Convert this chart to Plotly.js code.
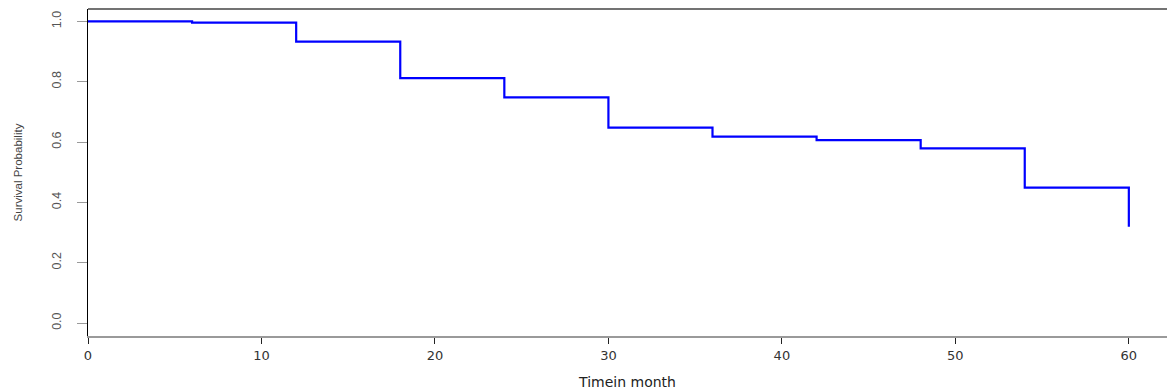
<!DOCTYPE html>
<html>
<head>
<meta charset="utf-8">
<script src="https://cdn.plot.ly/plotly-3.0.1.min.js"></script>
<style>html,body{margin:0;padding:0;background:#fff;}#chart{width:1167px;height:390px;}</style>
</head>
<body>
<div id="chart"></div>
<script>
// Kaplan-Meier step values
const timeMonths = [0, 6, 12, 18, 24, 30, 36, 42, 48, 54, 60];
const survival   = [1.0, 0.996, 0.933, 0.812, 0.748, 0.648, 0.618, 0.606, 0.579, 0.449, 0.319];
const xTicks = [0, 10, 20, 30, 40, 50, 60];
const yTicks = [0.0, 0.2, 0.4, 0.6, 0.8, 1.0];
const yTickText = ['0.0', '0.2', '0.4', '0.6', '0.8', '1.0'];

// step function: value holds until the next time, then drops (final drop at last time)
const xs = [], ys = [];
for (let i = 0; i < timeMonths.length; i++) {
  if (i > 0) { xs.push(timeMonths[i]); ys.push(survival[i - 1]); }
  xs.push(timeMonths[i]); ys.push(survival[i]);
}

const trace = {
  x: xs, y: ys, type: 'scatter', mode: 'lines',
  line: {color: '#0000ff', width: 2.2},
  hoverinfo: 'x+y', showlegend: false
};

const layout = {
  width: 1167, height: 390,
  margin: {l: 88, r: 0, t: 9, b: 54},
  paper_bgcolor: '#ffffff', plot_bgcolor: '#ffffff',
  font: {family: 'Liberation Sans, Arial, sans-serif', color: '#333'},
  xaxis: {
    range: [0, 62.2], showgrid: false, zeroline: false,
    tickmode: 'array', tickvals: xTicks, ticktext: xTicks.map(String),
    ticks: 'outside', ticklen: 6, tickwidth: 1, tickcolor: '#222',
    showline: true, linecolor: '#9a9a9a', linewidth: 2,
    tickfont: {family: 'DejaVu Sans, sans-serif', size: 13, color: '#333'},
    title: {text: 'Timein month', font: {family: 'DejaVu Sans, sans-serif', size: 14, color: '#222'}, standoff: 16},
    automargin: false
  },
  yaxis: {
    range: [-0.043, 1.041], showgrid: false, zeroline: false,
    tickmode: 'array', tickvals: yTicks, ticktext: yTickText,
    ticks: 'outside', ticklen: 10, tickwidth: 1, tickcolor: '#9a9a9a',
    tickangle: -90, ticklabelstandoff: 11,
    showline: true, linecolor: '#000', linewidth: 1,
    tickfont: {family: 'Liberation Sans, Arial, sans-serif', size: 12.5, color: '#555'},
    title: {text: 'Survival Probability', font: {family: 'Liberation Sans, Arial, sans-serif', size: 11.5, color: '#444'}, standoff: 24},
    automargin: false
  },
  shapes: [
    {type: 'line', xref: 'paper', yref: 'paper', x0: 0, x1: 1, y0: 1, y1: 1,
     line: {color: '#444', width: 1.5}}
  ]
};

Plotly.newPlot('chart', [trace], layout, {displayModeBar: false, staticPlot: true});
</script>
</body>
</html>
